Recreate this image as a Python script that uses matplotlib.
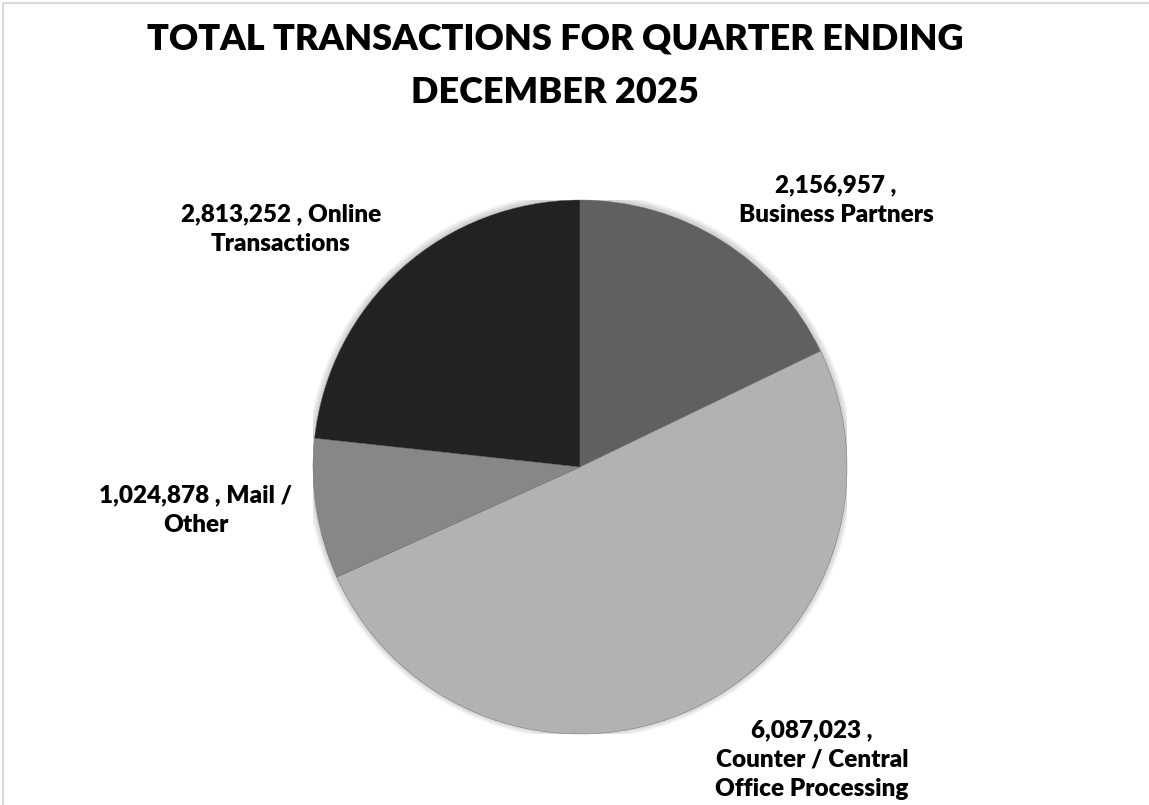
import matplotlib
matplotlib.use("Agg")
import matplotlib.pyplot as plt
from matplotlib.patches import Rectangle, Circle

# data
categories = ["Business Partners", "Counter / Central\nOffice Processing", "Mail /\nOther", "Online\nTransactions"]
values = [2156957, 6087023, 1024878, 2813252]
colors = ["#606060", "#b2b2b2", "#878787", "#222222"]
label_text = ["2,156,957 ,\nBusiness Partners",
              "6,087,023 ,\nCounter / Central\nOffice Processing",
              "1,024,878 , Mail /\nOther",
              "2,813,252 , Online\nTransactions"]

W, H = 1149, 805
fig = plt.figure(figsize=(W / 100, H / 100), dpi=100)
plt.rcParams['font.family'] = ['Lato', 'DejaVu Sans']

# light frame (only top / left visible in the crop)
fig.patches.append(Rectangle((3 / W, -0.1), 1.2, (H - 3) / H + 0.1, transform=fig.transFigure,
                             fill=False, edgecolor="#d9d9d9", linewidth=1.5))

# pie axes in pixel terms
cx, cy, r = 580, 467, 267
ax = fig.add_axes([(cx - r) / W, (H - cy - r) / H, 2 * r / W, 2 * r / H])

# soft shadow round the pie
for i in range(6):
    ax.add_patch(Circle((0, 0.004), 1 + 0.004 * (i + 1), color="black", alpha=0.03, lw=0, zorder=0))

ax.pie(values, colors=colors, startangle=90, counterclock=False, radius=1,
       wedgeprops=dict(linewidth=0.3, edgecolor="#6a6a6a"))
ax.set_xlim(-1, 1)
ax.set_ylim(-1, 1)
ax.set_aspect("equal")
ax.axis("off")


def px(x, y):
    return ((x - cx) / r, (cy - y) / r)


# label centres (pixels)
label_pos = [(836, 200), (812, 760), (196, 510), (281, 229)]
for txt, (x, y) in zip(label_text, label_pos):
    ax.text(*px(x, y), txt, ha="center", va="center", fontsize=17.5, fontweight="heavy",
            linespacing=1.4, color="black", clip_on=False)

fig.text(555 / W, 1 - 66 / H, "TOTAL TRANSACTIONS FOR QUARTER ENDING\nDECEMBER 2025",
         ha="center", va="center", fontsize=26, fontweight="heavy", linespacing=1.75)

fig.savefig("out.png", dpi=100)
